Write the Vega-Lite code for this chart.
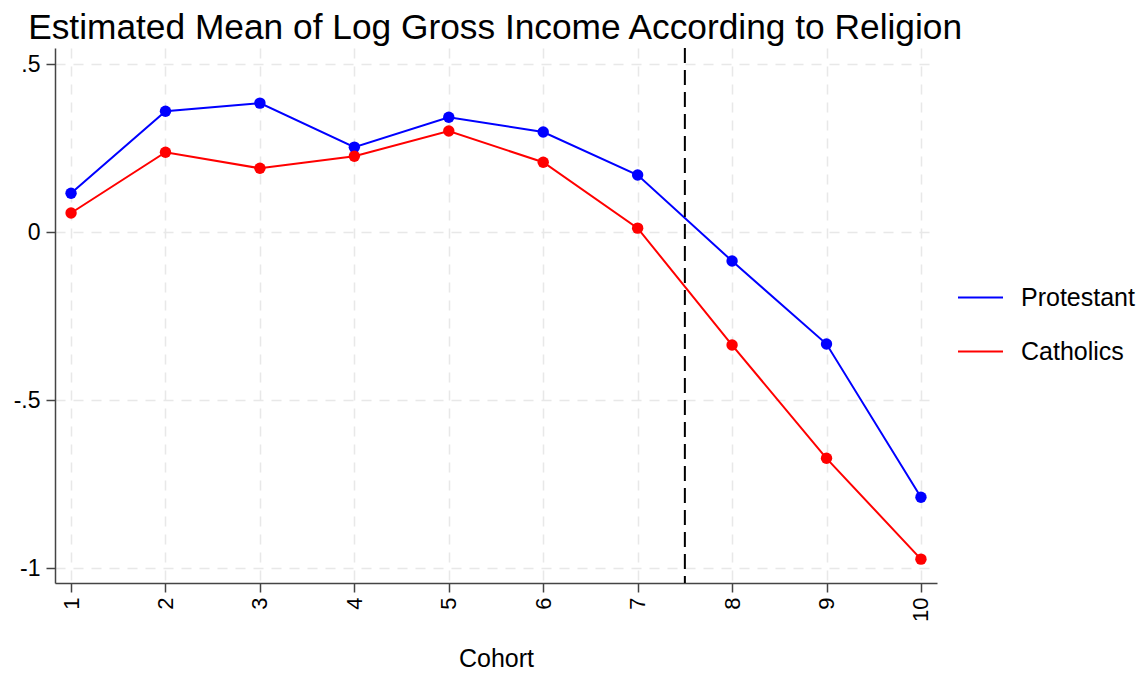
{
  "$schema": "https://vega.github.io/schema/vega-lite/v6.json",
  "width": 882,
  "height": 535,
  "autosize": {"type": "none"},
  "padding": {"left": 55, "top": 48, "right": 211, "bottom": 90},
  "background": "white",
  "config": {
    "view": {"stroke": null},
    "font": "Liberation Sans",
    "axis": {"labelFont": "Liberation Sans", "titleFont": "Liberation Sans"},
    "legend": {"labelFont": "Liberation Sans"}
  },
  "title": {
    "text": "Estimated Mean of Log Gross Income According to Religion",
    "font": "Liberation Sans",
    "fontSize": 35.3,
    "fontWeight": "normal",
    "color": "#000000",
    "anchor": "start",
    "dx": 15,
    "offset": 1
  },
  "datasets": {
    "series": [
      {"cohort": 1, "group": "Protestant", "value": 0.116},
      {"cohort": 2, "group": "Protestant", "value": 0.360},
      {"cohort": 3, "group": "Protestant", "value": 0.384},
      {"cohort": 4, "group": "Protestant", "value": 0.253},
      {"cohort": 5, "group": "Protestant", "value": 0.342},
      {"cohort": 6, "group": "Protestant", "value": 0.298},
      {"cohort": 7, "group": "Protestant", "value": 0.170},
      {"cohort": 8, "group": "Protestant", "value": -0.086},
      {"cohort": 9, "group": "Protestant", "value": -0.333},
      {"cohort": 10, "group": "Protestant", "value": -0.789},
      {"cohort": 1, "group": "Catholics", "value": 0.057},
      {"cohort": 2, "group": "Catholics", "value": 0.238},
      {"cohort": 3, "group": "Catholics", "value": 0.190},
      {"cohort": 4, "group": "Catholics", "value": 0.226},
      {"cohort": 5, "group": "Catholics", "value": 0.301},
      {"cohort": 6, "group": "Catholics", "value": 0.208},
      {"cohort": 7, "group": "Catholics", "value": 0.012},
      {"cohort": 8, "group": "Catholics", "value": -0.336},
      {"cohort": 9, "group": "Catholics", "value": -0.673},
      {"cohort": 10, "group": "Catholics", "value": -0.973}
    ],
    "cutoff": [{"cohort": 7.5}]
  },
  "layer": [
    {
      "data": {"name": "series"},
      "mark": {"type": "line", "strokeWidth": 2},
      "encoding": {
        "x": {
          "field": "cohort", "type": "quantitative",
          "scale": {"domain": [0.83, 10.17], "nice": false, "zero": false},
          "axis": {
            "title": "Cohort",
            "titleFontSize": 25, "titleFontWeight": "normal", "titleColor": "#000000",
            "titlePadding": 25,
            "values": [1, 2, 3, 4, 5, 6, 7, 8, 9, 10],
            "format": "d",
            "labelAngle": -90,
            "labelFontSize": 22, "labelColor": "#000000", "labelPadding": 5,
            "tickSize": 9, "tickColor": "#444444", "tickWidth": 1.5,
            "domainColor": "#444444", "domainWidth": 1.5,
            "grid": true, "gridColor": "#e8e8e8", "gridDash": [10, 8], "gridWidth": 1.5
          }
        },
        "y": {
          "field": "value", "type": "quantitative",
          "scale": {"domain": [-1.044, 0.548], "nice": false, "zero": false},
          "axis": {
            "title": null,
            "values": [-1, -0.5, 0, 0.5],
            "labelExpr": "datum.value == 0.5 ? '.5' : datum.value == -0.5 ? '-.5' : datum.value == -1 ? '-1' : '0'",
            "labelFontSize": 23, "labelColor": "#000000", "labelPadding": 6,
            "tickSize": 9, "tickColor": "#444444", "tickWidth": 1.5,
            "domainColor": "#444444", "domainWidth": 1.5,
            "grid": true, "gridColor": "#e8e8e8", "gridDash": [10, 8], "gridWidth": 1.5
          }
        },
        "color": {
          "field": "group", "type": "nominal",
          "scale": {"domain": ["Protestant", "Catholics"], "range": ["#0000ff", "#ff0000"]},
          "legend": {
            "title": null,
            "orient": "none",
            "legendX": 902,
            "legendY": 226,
            "symbolType": "stroke",
            "symbolSize": 2025,
            "symbolStrokeWidth": 2,
            "labelFontSize": 25,
            "labelColor": "#000000",
            "labelOffset": 17,
            "rowPadding": 17
          }
        }
      }
    },
    {
      "data": {"name": "series"},
      "mark": {"type": "point", "filled": true, "size": 130, "opacity": 1},
      "encoding": {
        "x": {"field": "cohort", "type": "quantitative"},
        "y": {"field": "value", "type": "quantitative"},
        "color": {"field": "group", "type": "nominal", "legend": null}
      }
    },
    {
      "data": {"name": "cutoff"},
      "mark": {"type": "rule", "color": "#000000", "strokeWidth": 2, "strokeDash": [15, 7]},
      "encoding": {
        "x": {"field": "cohort", "type": "quantitative"}
      }
    }
  ]
}
